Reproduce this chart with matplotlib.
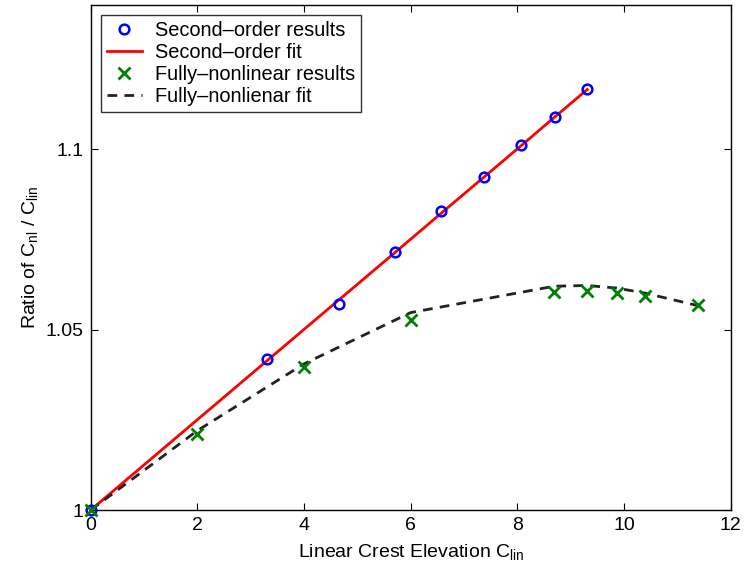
import matplotlib
matplotlib.use("Agg")
import matplotlib.pyplot as plt

# second-order model
so_x = [0.0, 3.30, 4.66, 5.71, 6.57, 7.37, 8.06, 8.71, 9.31]
so_y = [1.0, 1.0418, 1.0571, 1.0716, 1.0829, 1.0922, 1.1012, 1.1088, 1.1165]
so_fit = [1.0, 1.0413, 1.0583, 1.0714, 1.0822, 1.0922, 1.1008, 1.1090, 1.1165]

# fully-nonlinear model
fn_x = [0.0, 2.0, 4.0, 6.0, 8.69, 9.30, 9.86, 10.39, 11.39]
fn_y = [1.0, 1.0212, 1.0395, 1.0526, 1.0604, 1.0607, 1.0602, 1.0593, 1.0568]
fn_fit = [1.0, 1.0220, 1.0405, 1.0547, 1.0620, 1.0622, 1.0615, 1.0601, 1.0566]

x_ticks = [0, 2, 4, 6, 8, 10, 12]
y_ticks = [1.0, 1.05, 1.1]
y_tick_labels = ["1", "1.05", "1.1"]

plt.rcParams["font.family"] = ["Liberation Sans", "DejaVu Sans"]
plt.rcParams["mathtext.fontset"] = "custom"
plt.rcParams["mathtext.rm"] = "Liberation Sans"
plt.rcParams["mathtext.it"] = "Liberation Sans"

fig = plt.figure(figsize=(7.45, 5.78), dpi=100)
ax = fig.add_axes([0.1218, 0.1176, 0.8590, 0.8737])

ax.plot(so_x, so_y, "o", color="blue", markersize=7, markeredgewidth=1.8,
        markerfacecolor="none", label="Second\u2013order results", clip_on=False, zorder=4)
ax.plot(so_x, so_fit, "-", color="red", linewidth=2.0,
        label="Second\u2013order fit", zorder=3)
ax.plot(fn_x, fn_y, "x", color="green", markersize=8, markeredgewidth=2.0,
        label="Fully\u2013nonlinear results", clip_on=False, zorder=4)
ax.plot(fn_x, fn_fit, color="#222222", linewidth=2.0, dashes=(3.5, 2.6),
        label="Fully\u2013nonlienar fit", zorder=3)

ax.set_xlim(0, 12)
ax.set_ylim(1.0, 1.1399)
ax.set_xticks(x_ticks)
ax.set_yticks(y_ticks)
ax.set_yticklabels(y_tick_labels)

ax.tick_params(direction="in", top=True, right=True, length=5, width=0.8,
               labelsize=14, pad=5)
for s in ax.spines.values():
    s.set_linewidth(1.0)

ax.set_xlabel(r"Linear Crest Elevation C$_{\mathrm{lin}}$", fontsize=14, labelpad=6)
ax.set_ylabel(r"Ratio of C$_{\mathrm{nl}}$ / C$_{\mathrm{lin}}$", fontsize=14, labelpad=4)

leg = ax.legend(loc="upper left", fontsize=14.4, frameon=True, fancybox=False,
                borderaxespad=0.5, handlelength=1.75, handletextpad=0.65,
                labelspacing=0.15, borderpad=0.3)
leg.get_frame().set_edgecolor("black")
leg.get_frame().set_linewidth(1.0)

fig.savefig("out.png", dpi=100)
plt.close(fig)
